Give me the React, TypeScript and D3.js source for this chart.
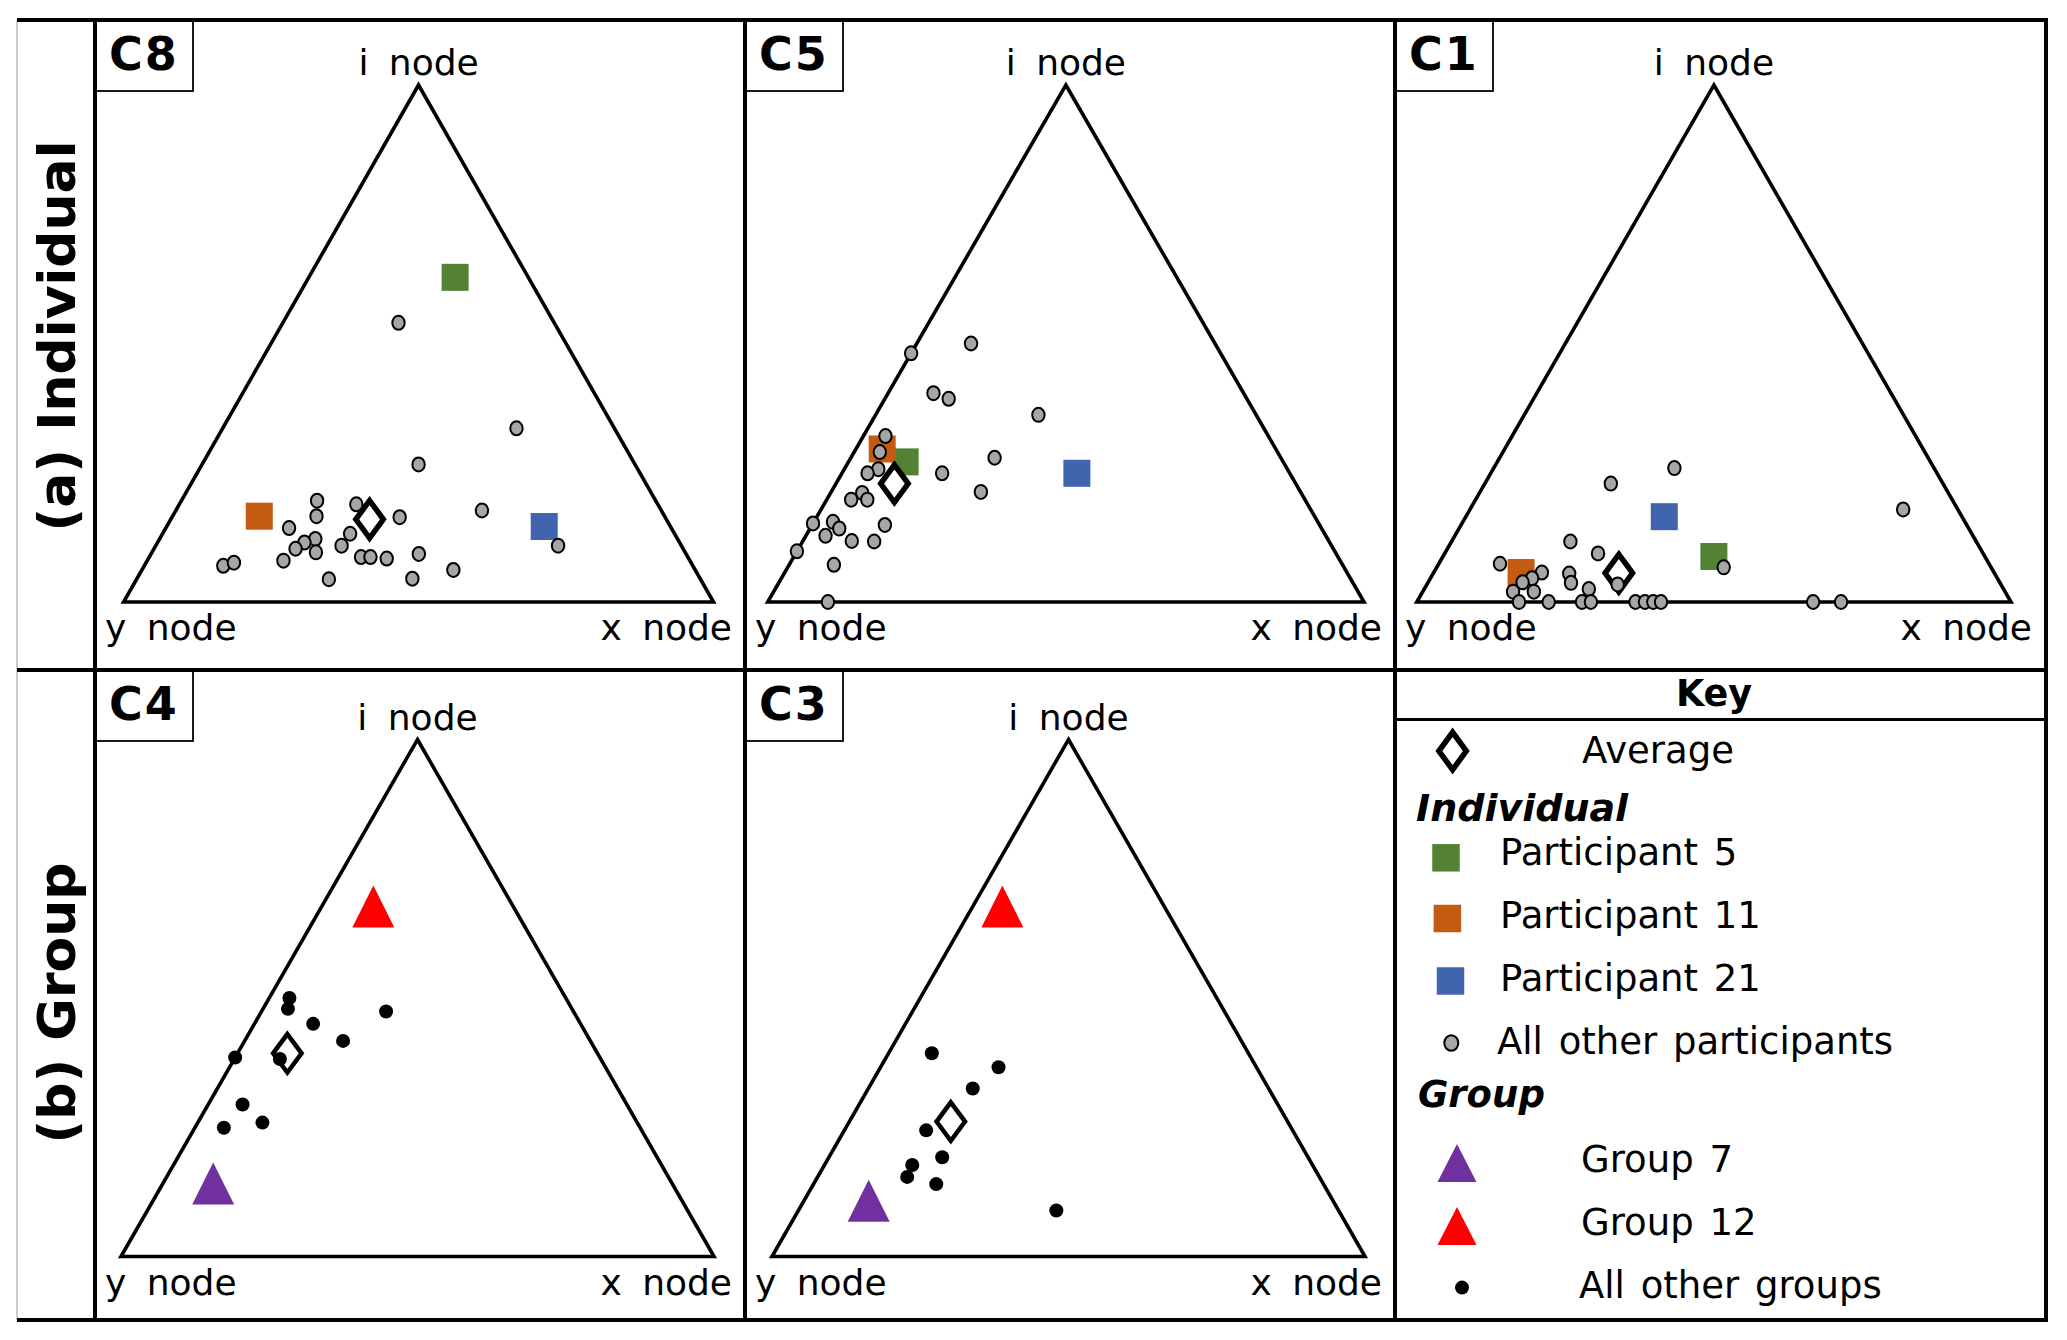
import React from "react";
import * as d3 from "d3";

// ternary composition in percent: [i node, x node, y node]
type Comp = [number, number, number];

// ---- (a) Individual ----
const C8_OTHERS: Comp[] = [
  [54.0, 19.6, 26.4], [33.6, 49.8, 16.6], [26.6, 36.7, 36.7], [17.7, 51.9, 30.4],
  [16.4, 38.6, 45.0], [19.6, 23.0, 57.4], [16.6, 24.4, 59.0], [18.9, 30.0, 51.1],
  [14.3, 20.9, 64.8], [13.2, 31.8, 55.0], [12.2, 26.4, 61.4], [11.5, 24.9, 63.6],
  [10.3, 24.0, 65.7], [9.6, 27.8, 62.6], [10.9, 31.5, 57.6], [8.0, 23.1, 68.9],
  [8.7, 35.9, 55.4], [8.7, 37.5, 53.8], [8.4, 40.4, 51.2], [9.3, 45.4, 45.3],
  [7.0, 13.4, 79.6], [7.6, 14.9, 77.5], [4.4, 32.6, 63.0], [4.5, 46.7, 48.8],
  [6.2, 52.8, 41.0], [10.9, 68.2, 20.9],
];
const C8_P5: Comp = [62.8, 24.8, 12.4];
const C8_P11: Comp = [16.6, 14.7, 68.7];
const C8_P21: Comp = [14.6, 64.0, 21.4];
const C8_AVG: Comp = [16.0, 33.7, 50.3];

const C5_OTHERS: Comp[] = [
  [48.1, 0.0, 51.9], [50.0, 9.1, 40.9], [40.4, 7.6, 52.0], [39.3, 10.7, 50.0],
  [36.2, 27.3, 36.5], [32.1, 3.7, 64.2], [29.0, 4.3, 66.7], [27.9, 24.1, 48.0],
  [25.7, 5.7, 68.6], [24.9, 4.3, 70.8], [24.9, 16.8, 58.3], [21.3, 25.1, 53.6],
  [21.1, 5.3, 73.6], [19.8, 4.1, 76.1], [19.8, 6.8, 73.4], [15.2, 0.0, 84.8],
  [15.5, 3.2, 81.3], [14.2, 4.9, 80.9], [12.8, 3.3, 83.9], [11.8, 8.2, 80.0],
  [11.7, 12.0, 76.3], [14.9, 12.2, 72.9], [9.8, 0.0, 90.2], [7.2, 7.5, 85.3],
  [0.0, 10.1, 89.9],
];
const C5_P5: Comp = [27.1, 9.5, 63.4];
const C5_P11: Comp = [29.6, 4.4, 66.0];
const C5_P21: Comp = [24.9, 39.4, 35.7];
const C5_AVG: Comp = [22.9, 9.8, 67.3];

const C1_OTHERS: Comp[] = [
  [25.9, 30.4, 43.7], [22.9, 21.2, 55.9], [17.9, 72.9, 9.2], [11.7, 20.0, 68.3],
  [9.4, 25.8, 64.8], [7.4, 10.3, 82.3], [5.7, 18.2, 76.1], [4.6, 17.1, 78.3],
  [3.8, 15.9, 80.3], [2.0, 15.2, 82.8], [2.0, 18.7, 79.3], [5.5, 22.9, 71.6],
  [3.7, 24.1, 72.2], [2.5, 27.7, 69.8], [3.4, 32.1, 64.5], [6.7, 48.3, 45.0],
  [0, 17.2, 82.8], [0, 22.2, 77.8], [0, 27.8, 72.2], [0, 29.3, 70.7],
  [0, 36.8, 63.2], [0, 38.4, 61.6], [0, 39.8, 60.2], [0, 41.1, 58.9],
  [0, 66.7, 33.3], [0, 71.4, 28.6],
];
const C1_P5: Comp = [8.8, 45.6, 45.6];
const C1_P11: Comp = [5.7, 14.7, 79.6];
const C1_P21: Comp = [16.5, 33.4, 50.1];
const C1_AVG: Comp = [5.6, 31.2, 63.2];

// ---- (b) Group ----
const C4_OTHERS: Comp[] = [
  [50.0, 3.4, 46.6], [47.9, 4.2, 47.9], [45.0, 9.9, 45.1], [47.4, 21.0, 31.6],
  [41.7, 16.6, 41.7], [38.5, 0.0, 61.5], [38.2, 7.7, 54.1], [29.4, 5.8, 64.8],
  [24.9, 4.9, 70.2], [25.9, 10.9, 63.2],
];
const C4_G7: Comp = [14.1, 8.5, 77.4];
const C4_G12: Comp = [67.7, 8.7, 23.6];
const C4_AVG: Comp = [39.3, 8.4, 52.3];

const C3_OTHERS: Comp[] = [
  [39.3, 7.3, 53.4], [36.6, 19.9, 43.5], [32.5, 17.6, 49.9], [24.4, 13.8, 61.8],
  [19.2, 19.1, 61.7], [17.7, 14.8, 67.5], [15.4, 15.1, 69.5], [14.0, 20.7, 65.3],
  [8.9, 43.5, 47.6],
];
const C3_G7: Comp = [10.8, 10.9, 78.3];
const C3_G12: Comp = [67.7, 5.0, 27.3];
const C3_AVG: Comp = [26.1, 17.1, 56.8];

const ROW_LABELS = ["(a) Individual", "(b) Group"];
const NODE_LABELS = ["i node", "y node", "x node"];

const FONT = "'DejaVu Sans', Verdana, sans-serif";
const GREEN = "#548235";
const ORANGE = "#c55a11";
const BLUE = "#4064ad";
const PURPLE = "#7030a0";
const RED = "#ff0000";
const GREY = "#a6a6a6";

const COL_X = [95, 745, 1395];
const ROW_Y = [20, 670];
const RIGHT = 2046;
const BOTTOM = 1320;

interface Panel {
  id: string;
  col: number;
  row: number;
  left: number;
  right: number;
  others: Comp[];
  average: Comp;
  squares?: { c: Comp; color: string }[];
  triangles?: { c: Comp; color: string }[];
}

const PANELS: Panel[] = [
  {
    id: "C8", col: 0, row: 0, left: 123.6, right: 713.5, others: C8_OTHERS, average: C8_AVG,
    squares: [{ c: C8_P5, color: GREEN }, { c: C8_P11, color: ORANGE }, { c: C8_P21, color: BLUE }],
  },
  {
    id: "C5", col: 1, row: 0, left: 767.7, right: 1364, others: C5_OTHERS, average: C5_AVG,
    squares: [{ c: C5_P5, color: GREEN }, { c: C5_P11, color: ORANGE }, { c: C5_P21, color: BLUE }],
  },
  {
    id: "C1", col: 2, row: 0, left: 1416.8, right: 2011, others: C1_OTHERS, average: C1_AVG,
    squares: [{ c: C1_P5, color: GREEN }, { c: C1_P11, color: ORANGE }, { c: C1_P21, color: BLUE }],
  },
  {
    id: "C4", col: 0, row: 1, left: 121, right: 714, others: C4_OTHERS, average: C4_AVG,
    triangles: [{ c: C4_G7, color: PURPLE }, { c: C4_G12, color: RED }],
  },
  {
    id: "C3", col: 1, row: 1, left: 772, right: 1365, others: C3_OTHERS, average: C3_AVG,
    triangles: [{ c: C3_G7, color: PURPLE }, { c: C3_G12, color: RED }],
  },
];

const diamondPath = (w: number, h: number) =>
  `M0,${-h / 2}L${w / 2},0L0,${h / 2}L${-w / 2},0Z`;
const trianglePath = (w: number, h: number) =>
  `M0,${-h / 2}L${w / 2},${h / 2}L${-w / 2},${h / 2}Z`;

const Square = ({ x, y, color, s = 27 }: { x: number; y: number; color: string; s?: number }) => (
  <rect x={x - s / 2} y={y - s / 2} width={s} height={s} fill={color} />
);
const Diamond = ({ x, y, sw }: { x: number; y: number; sw: number }) => (
  <path
    d={diamondPath(33 - sw, 43 - sw)}
    transform={`translate(${x},${y})`}
    fill="white"
    stroke="black"
    strokeWidth={sw}
    strokeLinejoin="miter"
  />
);
const Tri = ({ x, y, color, w = 42, h = 42 }: { x: number; y: number; color: string; w?: number; h?: number }) => (
  <path d={trianglePath(w, h)} transform={`translate(${x},${y})`} fill={color} />
);
const GreyDot = ({ x, y, rx = 6.2, ry = 7 }: { x: number; y: number; rx?: number; ry?: number }) => (
  <ellipse cx={x} cy={y} rx={rx} ry={ry} fill={GREY} stroke="black" strokeWidth={2} />
);
const BlackDot = ({ x, y }: { x: number; y: number }) => <circle cx={x} cy={y} r={7} fill="black" />;

function TernaryPanel({ p }: { p: Panel }) {
  const colX = COL_X[p.col];
  const top = ROW_Y[p.row];
  const apexY = top + (p.row === 0 ? 65 : 69.5);
  const baseY = apexY + 517;
  const iScale = d3.scaleLinear().domain([0, 100]).range([baseY, apexY]);
  const hScale = d3.scaleLinear().domain([0, 100]).range([p.left, p.right]);
  const pos = (c: Comp): [number, number] => [hScale(c[1] + c[0] / 2), iScale(c[0])];
  const corners = [pos([100, 0, 0]), pos([0, 100, 0]), pos([0, 0, 100])];
  const outline = d3.line()(corners) + "Z";
  const labelBase = top + (p.row === 0 ? 620 : 625);
  const isGroup = !!p.triangles;
  const [ax, ay] = pos(p.average);
  const nodeText = { fontSize: 36, fontFamily: FONT, wordSpacing: 9 } as const;

  return (
    <g>
      <rect x={colX} y={top} width={98} height={71} fill="none" stroke="black" strokeWidth={1.8} />
      <text
        x={colX + 49}
        y={top + 50}
        textAnchor="middle"
        fontSize={46}
        fontWeight="bold"
        letterSpacing={2}
        fontFamily={FONT}
      >
        {p.id}
      </text>
      <path d={outline} fill="none" stroke="black" strokeWidth={3.6} strokeLinejoin="miter" />
      <text x={corners[0][0]} y={apexY - 10} textAnchor="middle" {...nodeText}>
        {NODE_LABELS[0]}
      </text>
      <text x={colX + 10} y={labelBase} {...nodeText}>
        {NODE_LABELS[1]}
      </text>
      <text x={colX + 637} y={labelBase} textAnchor="end" {...nodeText}>
        {NODE_LABELS[2]}
      </text>
      {p.squares?.map((s, k) => {
        const [x, y] = pos(s.c);
        return <Square key={k} x={x} y={y} color={s.color} />;
      })}
      {p.triangles?.map((s, k) => {
        const [x, y] = pos(s.c);
        return <Tri key={k} x={x} y={y} color={s.color} />;
      })}
      <Diamond x={ax} y={ay} sw={isGroup ? 4.5 : 5.5} />
      {p.others.map((c, k) => {
        const [x, y] = pos(c);
        return isGroup ? <BlackDot key={k} x={x} y={y} /> : <GreyDot key={k} x={x} y={y} />;
      })}
    </g>
  );
}

function Key() {
  const x0 = COL_X[2];
  const t = { fontSize: 37, fontFamily: FONT, wordSpacing: 4 } as const;
  return (
    <g>
      <line x1={x0} x2={RIGHT} y1={719.5} y2={719.5} stroke="black" strokeWidth={3} />
      <text x={1714} y={705.5} textAnchor="middle" fontSize={36.5} fontWeight="bold" fontFamily={FONT}>
        Key
      </text>
      <Diamond x={1452.6} y={751} sw={5.5} />
      <text x={1582} y={763} {...t}>Average</text>
      <text x={1416} y={820.5} {...t} fontSize={38} fontWeight="bold" fontStyle="italic">Individual</text>
      <Square x={1446} y={857.8} color={GREEN} s={27.5} />
      <text x={1500} y={864.7} {...t}>Participant 5</text>
      <Square x={1447.4} y={918.5} color={ORANGE} s={27.5} />
      <text x={1500} y={927.6} {...t}>Participant 11</text>
      <Square x={1450.5} y={981} color={BLUE} s={27.5} />
      <text x={1500} y={991} {...t}>Participant 21</text>
      <GreyDot x={1451.3} y={1043} rx={7} ry={7.8} />
      <text x={1497} y={1053.8} {...t}>All other participants</text>
      <text x={1418} y={1106.7} {...t} fontWeight="bold" fontStyle="italic">Group</text>
      <Tri x={1457} y={1163} color={PURPLE} w={39} h={38} />
      <text x={1581} y={1171.8} {...t}>Group 7</text>
      <Tri x={1457} y={1226} color={RED} w={39} h={38} />
      <text x={1581} y={1234.7} {...t}>Group 12</text>
      <BlackDot x={1462} y={1287.6} />
      <text x={1579} y={1297.5} {...t}>All other groups</text>
    </g>
  );
}

export default function App() {
  return (
    <svg
      width={2067}
      height={1340}
      style={{ position: "absolute", left: 0, top: 0, background: "white" }}
    >
      <rect width={2067} height={1340} fill="white" />
      {/* frame */}
      <line x1={17} x2={17} y1={ROW_Y[0]} y2={BOTTOM} stroke="#bbbbbb" strokeWidth={1.5} />
      {[ROW_Y[0], ROW_Y[1], BOTTOM].map((y) => (
        <line key={y} x1={17} x2={RIGHT + 2} y1={y} y2={y} stroke="black" strokeWidth={4} />
      ))}
      {[...COL_X, RIGHT].map((x) => (
        <line key={x} x1={x} x2={x} y1={ROW_Y[0] - 2} y2={BOTTOM + 2} stroke="black" strokeWidth={4} />
      ))}
      {ROW_LABELS.map((label, k) => (
        <text
          key={label}
          transform={`translate(75,${k === 0 ? 336 : 1003}) rotate(-90)`}
          textAnchor="middle"
          fontSize={52}
          fontWeight="bold"
          fontFamily={FONT}
        >
          {label}
        </text>
      ))}
      {PANELS.map((p) => (
        <TernaryPanel key={p.id} p={p} />
      ))}
      <Key />
    </svg>
  );
}
